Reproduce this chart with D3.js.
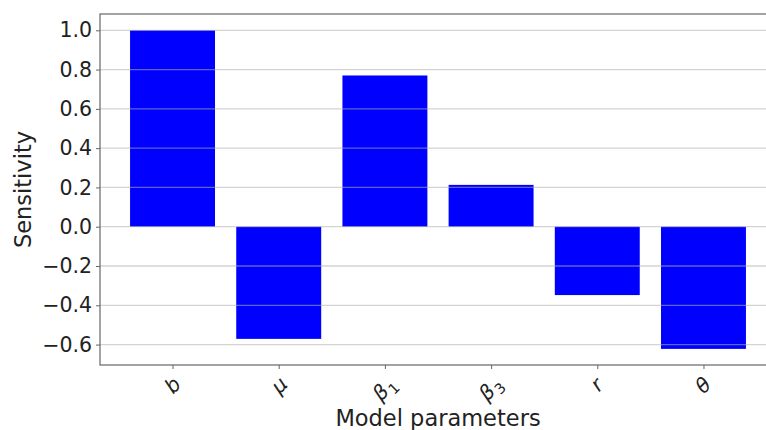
<!DOCTYPE html>
<html>
<head>
<meta charset="utf-8">
<script src="https://cdn.jsdelivr.net/npm/d3@7"></script>
<style>
  html, body { margin: 0; padding: 0; background: #fff; }
  svg { display: block; }
  text { font-family: "DejaVu Sans", sans-serif; fill: #222; }
</style>
</head>
<body>
<svg id="chart" width="766" height="430"></svg>
<script>
const categories = ["b", "μ", "β₁", "β₃", "r", "θ"];
const sensitivity = [1.0, -0.571, 0.770, 0.213, -0.348, -0.622];
const yTicks = [-0.6, -0.4, -0.2, 0.0, 0.2, 0.4, 0.6, 0.8, 1.0];
const xLabel = "Model parameters";
const yLabel = "Sensitivity";

const svg = d3.select("#chart");
const mLeft = 100, mRight = 776, mTop = 14, mBottom = 365;

const x = d3.scaleLinear().domain([-0.683, 5.683]).range([mLeft, mRight]);
const y = d3.scaleLinear().domain([-0.704, 1.083]).range([mBottom, mTop]);
const barW = x(0.4) - x(-0.4);

// bars
svg.append("g").selectAll("rect").data(sensitivity).join("rect")
  .attr("x", (d, i) => x(i) - barW / 2)
  .attr("width", barW)
  .attr("y", d => y(Math.max(0, d)))
  .attr("height", d => Math.abs(y(d) - y(0)))
  .attr("fill", "#0000ff");

// grid lines (drawn above bars)
svg.append("g").selectAll("line").data(yTicks).join("line")
  .attr("x1", mLeft).attr("x2", mRight)
  .attr("y1", d => y(d)).attr("y2", d => y(d))
  .attr("stroke", "#b0b0b0").attr("stroke-opacity", 0.55).attr("stroke-width", 1.3);

// y axis
const yAxis = d3.axisLeft(y).tickValues(yTicks).tickFormat(d3.format(".1f")).tickSize(4).tickPadding(4);
const gy = svg.append("g").attr("transform", `translate(${mLeft},0)`).call(yAxis);
gy.select(".domain").remove();
gy.selectAll(".tick line").attr("stroke", "#666");
gy.selectAll(".tick text").style("font-size", "20.5px").style("font-family", "DejaVu Sans").attr("fill", "#222");

// x axis ticks
const gx = svg.append("g").attr("transform", `translate(0,${mBottom})`)
  .call(d3.axisBottom(x).tickValues(d3.range(categories.length)).tickSize(4).tickFormat(""));
gx.select(".domain").remove();
gx.selectAll(".tick line").attr("stroke", "#666");

// rotated x tick labels (math-style: italic base, upright smaller subscript)
const subMap = { "₀": "0", "₁": "1", "₂": "2", "₃": "3", "₄": "4" };
const y0 = 372;
categories.forEach((c, i) => {
  const chars = Array.from(c);
  const base = chars.filter(ch => !(ch in subMap)).join("");
  const sub = chars.filter(ch => ch in subMap).map(ch => subMap[ch]).join("");
  const g = svg.append("g");
  const t = g.append("text").attr("fill", "#222").style("font-size", "20.5px");
  t.append("tspan").text(base).style("font-style", "italic");
  if (sub) {
    t.append("tspan").text(sub).style("font-size", "14.5px").attr("dx", 1).attr("dy", 4.5);
  }
  const bb = t.node().getBBox();
  const cx = bb.x + bb.width / 2, cy = bb.y + bb.height / 2;
  const cyRot = y0 + (bb.width + bb.height) / (2 * Math.SQRT2);
  g.attr("transform", `translate(${x(i)},${cyRot}) rotate(-45) translate(${-cx},${-cy})`);
});

// spines
const spine = svg.append("g").attr("fill", "none").attr("stroke", "#666").attr("stroke-width", 1.2);
spine.append("rect").attr("x", mLeft).attr("y", mTop).attr("width", mRight - mLeft).attr("height", mBottom - mTop);

// axis labels
svg.append("text").text(xLabel)
  .attr("x", (mLeft + mRight) / 2).attr("y", 426)
  .attr("text-anchor", "middle").style("font-size", "22.5px");
svg.append("text").text(yLabel)
  .attr("transform", `translate(31,${(mTop + mBottom) / 2}) rotate(-90)`)
  .attr("text-anchor", "middle").style("font-size", "22.5px");
</script>
</body>
</html>
